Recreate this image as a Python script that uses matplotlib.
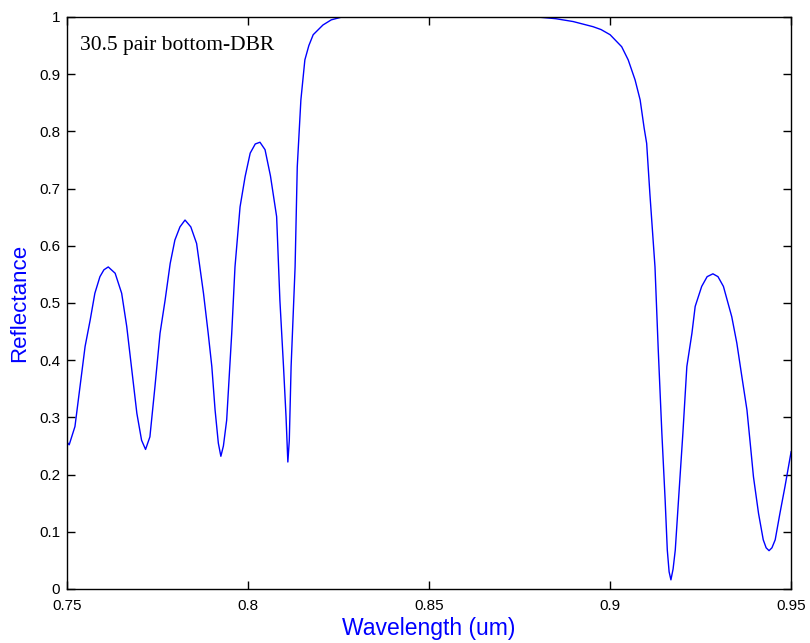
import matplotlib
matplotlib.use("Agg")
import matplotlib.pyplot as plt

# values
wavelength = [0.7500, 0.7506, 0.7522, 0.7536, 0.7550, 0.7564, 0.7577, 0.7591,
              0.7602, 0.7614, 0.7633, 0.7651, 0.7665, 0.7679, 0.7693, 0.7706,
              0.7717, 0.7729, 0.7743, 0.7757, 0.7771, 0.7785, 0.7798, 0.7812,
              0.7826, 0.7842, 0.7858, 0.7877, 0.7890, 0.7900, 0.7909, 0.7918,
              0.7925, 0.7932, 0.7941, 0.7955, 0.7964, 0.7978, 0.7992, 0.8006,
              0.8020, 0.8033, 0.8047, 0.8062, 0.8079, 0.8088, 0.8098, 0.8105,
              0.8110, 0.8114, 0.8119, 0.8130, 0.8136, 0.8146, 0.8157, 0.8168,
              0.8180, 0.8207, 0.8230, 0.8257, 0.8350, 0.8500, 0.8700, 0.8807,
              0.8850, 0.8898, 0.8953, 0.8975, 0.9000, 0.9032, 0.9050, 0.9069,
              0.9083, 0.9094, 0.9101, 0.9110, 0.9124, 0.9133, 0.9143, 0.9152,
              0.9158, 0.9163, 0.9168, 0.9174, 0.9180, 0.9189, 0.9201, 0.9212,
              0.9226, 0.9235, 0.9253, 0.9268, 0.9284, 0.9298, 0.9313, 0.9336,
              0.9350, 0.9364, 0.9378, 0.9387, 0.9396, 0.9410, 0.9423, 0.9431,
              0.9439, 0.9447, 0.9456, 0.9469, 0.9483, 0.9500]
reflectance = [0.257, 0.252, 0.284, 0.354, 0.424, 0.470, 0.517, 0.546,
               0.558, 0.563, 0.552, 0.517, 0.459, 0.383, 0.307, 0.260,
               0.244, 0.266, 0.354, 0.447, 0.505, 0.569, 0.610, 0.633,
               0.645, 0.633, 0.604, 0.517, 0.447, 0.389, 0.313, 0.255,
               0.232, 0.250, 0.295, 0.447, 0.563, 0.668, 0.721, 0.762,
               0.778, 0.781, 0.768, 0.722, 0.651, 0.505, 0.389, 0.301,
               0.222, 0.260, 0.389, 0.563, 0.738, 0.855, 0.925, 0.950,
               0.969, 0.986, 0.995, 0.9995, 1.000, 1.000, 1.000, 0.9995,
               0.997, 0.992, 0.983, 0.978, 0.969, 0.948, 0.925, 0.890,
               0.855, 0.806, 0.779, 0.690, 0.563, 0.418, 0.272, 0.156,
               0.068, 0.030, 0.016, 0.035, 0.068, 0.156, 0.272, 0.389,
               0.447, 0.494, 0.529, 0.546, 0.551, 0.546, 0.529, 0.476,
               0.430, 0.371, 0.313, 0.255, 0.196, 0.132, 0.086, 0.072,
               0.067, 0.072, 0.086, 0.132, 0.179, 0.240]

xticks = [0.75, 0.8, 0.85, 0.9, 0.95]
xticklabels = ["0.75", "0.8", "0.85", "0.9", "0.95"]
yticks = [0, 0.1, 0.2, 0.3, 0.4, 0.5, 0.6, 0.7, 0.8, 0.9, 1]
yticklabels = ["0", "0.1", "0.2", "0.3", "0.4", "0.5", "0.6", "0.7", "0.8", "0.9", "1"]

fig = plt.figure(figsize=(8.1, 6.43), dpi=100)
ax = fig.add_axes([0.0827, 0.084, 0.894, 0.8896])

ax.plot(wavelength, reflectance, color="#0000ff", linewidth=1.0)

ax.set_xlim(0.75, 0.95)
ax.set_ylim(0, 1)
ax.set_xticks(xticks)
ax.set_xticklabels(xticklabels)
ax.set_yticks(yticks)
ax.set_yticklabels(yticklabels)
ax.tick_params(direction="in", length=6, width=1, top=True, right=True,
               labelsize=11)
ax.tick_params(axis="x", pad=7)
ax.tick_params(axis="y", pad=5)
for lab in ax.get_xticklabels() + ax.get_yticklabels():
    lab.set_family("Liberation Sans")

for s in ax.spines.values():
    s.set_linewidth(1.0)

ax.set_xlabel("Wavelength (um)", color="#0000ff", fontsize=16.5,
              family="Liberation Sans", labelpad=3)
ax.set_ylabel("Reflectance", color="#0000ff", fontsize=16,
              family="Liberation Sans", labelpad=6)

ax.text(0.7536, 0.951, "30.5 pair bottom-DBR", fontsize=15.5,
        family="Liberation Serif", va="center", ha="left")

fig.savefig("out.png", dpi=100)
